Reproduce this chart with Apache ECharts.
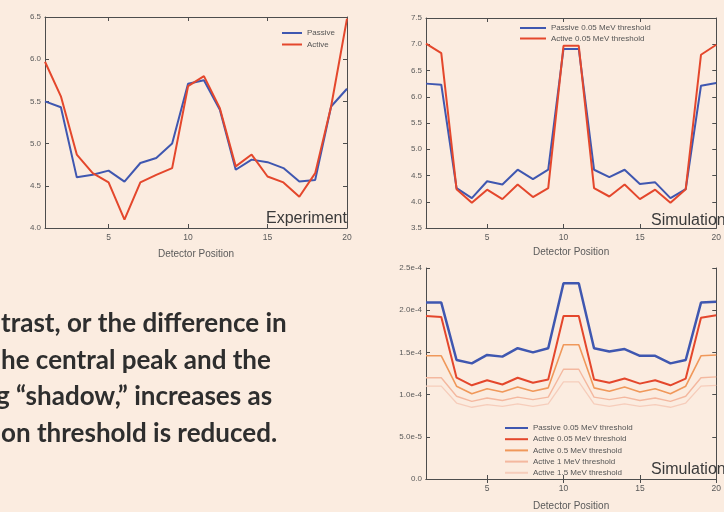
<!DOCTYPE html>
<html>
<head>
<meta charset="utf-8">
<script src="https://cdn.jsdelivr.net/npm/echarts@6/dist/echarts.min.js"></script>
<style>
  html, body { margin: 0; padding: 0; background: #fbece0; }
  #chart { width: 724px; height: 512px; }
</style>
</head>
<body>
<div id="chart"></div>
<script>
// Detector positions along the scan
const positions = [1, 2, 3, 4, 5, 6, 7, 8, 9, 10, 11, 12, 13, 14, 15, 16, 17, 18, 19, 20];
const xTickValues = [5, 10, 15, 20];

// Measured counts (experiment)
const expPassive = [5.50, 5.43, 4.60, 4.63, 4.68, 4.55, 4.77, 4.83, 5.00, 5.71,
                    5.75, 5.40, 4.69, 4.81, 4.78, 4.71, 4.55, 4.57, 5.44, 5.65];
const expActive  = [5.97, 5.56, 4.87, 4.65, 4.54, 4.10, 4.54, 4.63, 4.71, 5.68,
                    5.80, 5.42, 4.73, 4.87, 4.61, 4.54, 4.37, 4.65, 5.44, 6.48];

// Simulated counts at 0.05 MeV threshold
const simPassive = [6.25, 6.23, 4.26, 4.07, 4.39, 4.33, 4.61, 4.43, 4.61, 6.91,
                    6.91, 4.61, 4.47, 4.61, 4.34, 4.37, 4.07, 4.24, 6.21, 6.26];
const simActive  = [7.01, 6.83, 4.24, 3.98, 4.23, 4.05, 4.33, 4.09, 4.26, 6.97,
                    6.97, 4.26, 4.10, 4.33, 4.05, 4.23, 3.98, 4.24, 6.80, 6.99];

// Simulated response for several detection thresholds
const thrPassive005 = [2.09e-4, 2.09e-4, 1.41e-4, 1.37e-4, 1.47e-4, 1.45e-4, 1.55e-4, 1.50e-4, 1.55e-4, 2.32e-4,
                       2.32e-4, 1.55e-4, 1.51e-4, 1.54e-4, 1.46e-4, 1.46e-4, 1.37e-4, 1.41e-4, 2.09e-4, 2.10e-4];
const thrActive005  = [1.93e-4, 1.92e-4, 1.20e-4, 1.11e-4, 1.17e-4, 1.12e-4, 1.20e-4, 1.14e-4, 1.18e-4, 1.93e-4,
                       1.93e-4, 1.18e-4, 1.14e-4, 1.19e-4, 1.13e-4, 1.17e-4, 1.11e-4, 1.19e-4, 1.91e-4, 1.94e-4];
const thrActive05   = [1.46e-4, 1.46e-4, 1.10e-4, 1.01e-4, 1.07e-4, 1.03e-4, 1.09e-4, 1.04e-4, 1.08e-4, 1.59e-4,
                       1.59e-4, 1.08e-4, 1.04e-4, 1.09e-4, 1.03e-4, 1.07e-4, 1.01e-4, 1.10e-4, 1.46e-4, 1.47e-4];
const thrActive1    = [1.20e-4, 1.20e-4, 9.8e-5, 9.2e-5, 9.6e-5, 9.3e-5, 9.7e-5, 9.4e-5, 9.7e-5, 1.30e-4,
                       1.30e-4, 9.7e-5, 9.4e-5, 9.7e-5, 9.3e-5, 9.6e-5, 9.2e-5, 9.8e-5, 1.20e-4, 1.21e-4];
const thrActive15   = [1.10e-4, 1.10e-4, 9.0e-5, 8.5e-5, 8.8e-5, 8.6e-5, 8.9e-5, 8.6e-5, 8.9e-5, 1.15e-4,
                       1.15e-4, 8.9e-5, 8.6e-5, 8.9e-5, 8.6e-5, 8.8e-5, 8.5e-5, 9.0e-5, 1.10e-4, 1.11e-4];

// Paragraph lines beside the charts
const noteLines = [
  'trast, or the difference in',
  'he central peak and the',
  'g \u201cshadow,\u201d increases as',
  'on threshold is reduced.'
];

const C_BLUE = '#3f57b0';
const C_RED = '#e4472c';
const C_ORANGE = '#f0985a';
const C_PINK = '#f4b89f';
const C_PALE = '#f6cdbb';
const AXIS = '#4d4d4d';
const LABEL = '#5a5a5a';

const pairs = arr => positions.map((p, i) => [p, arr[i]]);

function xAxes(gridIndex, nameGap) {
  return [
    {
      type: 'value', gridIndex, position: 'bottom', min: 1, max: 20,
      name: 'Detector Position', nameLocation: 'middle', nameGap,
      nameTextStyle: { fontSize: 10, color: LABEL, fontFamily: 'Liberation Sans' },
      axisLine: { lineStyle: { color: AXIS, width: 1 } },
      axisTick: { inside: true, length: 4, customValues: xTickValues, lineStyle: { color: AXIS } },
      axisLabel: { customValues: xTickValues, fontSize: 8.5, color: LABEL, margin: 5, fontFamily: 'Liberation Sans' },
      splitLine: { show: false }
    },
    {
      type: 'value', gridIndex, position: 'top', min: 1, max: 20,
      axisLine: { lineStyle: { color: AXIS, width: 1 } },
      axisTick: { inside: true, length: 4, customValues: xTickValues, lineStyle: { color: AXIS } },
      axisLabel: { show: false },
      splitLine: { show: false }
    }
  ];
}

function yAxes(gridIndex, min, max, interval, fmt) {
  const base = { type: 'value', gridIndex, min, max, interval, splitLine: { show: false } };
  return [
    Object.assign({}, base, {
      position: 'left',
      axisLine: { show: true, lineStyle: { color: AXIS, width: 1 } },
      axisTick: { show: true, inside: true, length: 4, lineStyle: { color: AXIS } },
      axisLabel: { formatter: fmt, fontSize: 8, color: LABEL, margin: 4, fontFamily: 'Liberation Sans' }
    }),
    Object.assign({}, base, {
      position: 'right',
      axisLine: { show: true, lineStyle: { color: AXIS, width: 1 } },
      axisTick: { show: true, inside: true, length: 4, lineStyle: { color: AXIS } },
      axisLabel: { show: false }
    })
  ];
}

function line(name, data, color, width, xi, yi) {
  return {
    type: 'line', name, data: pairs(data), xAxisIndex: xi, yAxisIndex: yi,
    symbol: 'none', smooth: false, animation: false,
    lineStyle: { color, width }, itemStyle: { color }
  };
}

const legendText = { fontSize: 8, color: '#555', fontFamily: 'Liberation Sans' };
const legendBase = { orient: 'vertical', icon: 'rect', itemHeight: 2, textStyle: legendText, selectedMode: false };

const option = {
  backgroundColor: '#fbece0',
  animation: false,
  grid: [
    { left: 45, top: 17, width: 302, height: 211 },
    { left: 426, top: 18, width: 301, height: 210 },
    { left: 426, top: 268, width: 301, height: 211 }
  ],
  xAxis: [].concat(xAxes(0, 21), xAxes(1, 19), xAxes(2, 22)),
  yAxis: [].concat(
    yAxes(0, 4.0, 6.5, 0.5, v => v.toFixed(1)),
    yAxes(1, 3.5, 7.5, 0.5, v => v.toFixed(1)),
    yAxes(2, 0, 2.5e-4, 5e-5, v => (Math.abs(v) < 1e-12 ? '0.0' : v.toExponential(1)))
  ),
  legend: [
    Object.assign({}, legendBase, {
      data: ['Passive', 'Active'], left: 277, top: 24, itemWidth: 20, itemGap: 3.5
    }),
    Object.assign({}, legendBase, {
      data: ['Passive 0.05 MeV threshold', 'Active 0.05 MeV threshold'], left: 515, top: 19,
      itemWidth: 26, itemGap: 2.5
    }),
    Object.assign({}, legendBase, {
      data: ['Passive 0.05 MeV threshold', 'Active 0.05 MeV threshold', 'Active 0.5 MeV threshold',
             'Active 1 MeV threshold', 'Active 1.5 MeV threshold'],
      left: 500, top: 419, itemWidth: 23, itemGap: 3.2
    })
  ],
  series: [
    line('Passive', expPassive, C_BLUE, 2, 0, 0),
    line('Active', expActive, C_RED, 2, 0, 0),
    line('Passive 0.05 MeV threshold', simPassive, C_BLUE, 2, 2, 2),
    line('Active 0.05 MeV threshold', simActive, C_RED, 2, 2, 2),
    line('Active 1.5 MeV threshold', thrActive15, C_PALE, 1.3, 4, 4),
    line('Active 1 MeV threshold', thrActive1, C_PINK, 1.4, 4, 4),
    line('Active 0.5 MeV threshold', thrActive05, C_ORANGE, 1.6, 4, 4),
    line('Active 0.05 MeV threshold', thrActive005, C_RED, 2, 4, 4),
    line('Passive 0.05 MeV threshold', thrPassive005, C_BLUE, 2.5, 4, 4)
  ],
  graphic: [
    { type: 'text', left: 266, top: 211, silent: true,
      style: { text: 'Experiment', font: '16px "Liberation Sans"', fill: '#3a3a3a' } },
    { type: 'text', left: 651, top: 213, silent: true,
      style: { text: 'Simulation', font: '16px "Liberation Sans"', fill: '#3a3a3a' } },
    { type: 'text', left: 651, top: 462, silent: true,
      style: { text: 'Simulation', font: '16px "Liberation Sans"', fill: '#3a3a3a' } }
  ].concat(noteLines.map((t, i) => ({
    type: 'text', left: i === 2 ? -4 : 1, top: 311 + i * 36.5, silent: true,
    style: { text: t, font: 'bold 26px Lato', fill: '#2e2e2e' }
  })))
};

const chart = echarts.init(document.getElementById('chart'), null, { renderer: 'canvas' });
chart.setOption(option);
</script>
</body>
</html>
